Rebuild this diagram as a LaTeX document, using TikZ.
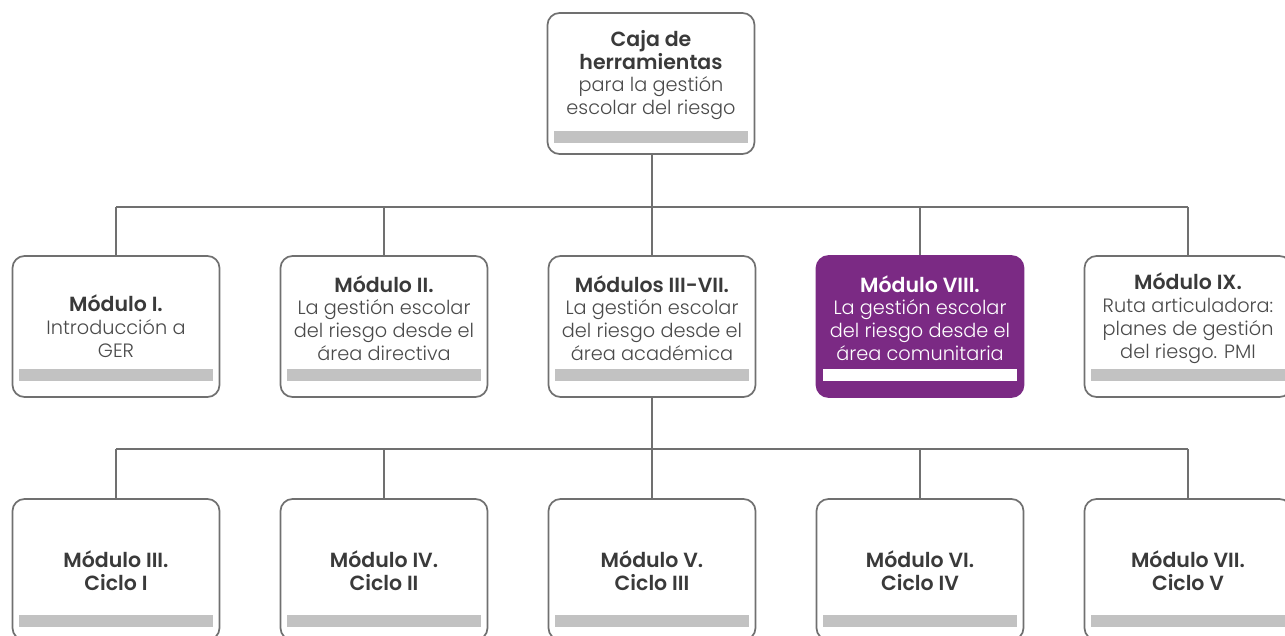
\documentclass[tikz,border=0pt]{standalone}
\usepackage{fontspec}
\setmainfont{Poppins}[UprightFont=* Light, BoldFont=* SemiBold]
\usetikzlibrary{calc}
\definecolor{linegray}{HTML}{707070}
\definecolor{txtgray}{HTML}{4A4A4A}
\definecolor{hdgray}{HTML}{3A3A3A}
\definecolor{bargray}{HTML}{C2C2C2}
\definecolor{modpurple}{HTML}{7B2A84}
\tikzset{
  box/.style={draw=linegray, line width=1.7pt, rounded corners=12pt, minimum width=207pt, minimum height=141pt, inner sep=0pt, fill=white},
  hibox/.style={box, draw=modpurple, fill=modpurple},
  lbl/.style={align=center, text=txtgray, font=\fontsize{19.3}{22.8}\selectfont, inner sep=0pt},
  hilbl/.style={lbl, text=white},
  conn/.style={draw=linegray, line width=1.2pt},
}
\newcommand\hd[1]{{\fontsize{20.5}{22.8}\selectfont\bfseries #1}}
\newcommand\drawbar[3]{\fill[#3] ($(#1.north west)+(7,#2)$) rectangle ($(#1.north east)+(-7,#2+12)$);}
\begin{document}
\begin{tikzpicture}[x=1pt,y=-1pt]
\useasboundingbox (0,0) rectangle (1285,635);
\clip (0,0) rectangle (1285,635);
% junction coordinates
\coordinate (h1L) at (116,207);
\coordinate (h1R) at (1188,207);
\coordinate (h1M) at (652,207);
\coordinate (h2L) at (116,449);
\coordinate (h2R) at (1188,449);
\coordinate (h2M) at (652,449);
% connectors
\draw[conn] (h1L) -- (h1R);
\draw[conn] (h2L) -- (h2R);
% boxes
\node[box] (top) at (651,83.5) {};
\node[box] (m1) at (116,326.5) {};
\node[box] (m2) at (384,326.5) {};
\node[box] (m3) at (652,326.5) {};
\node[hibox] (m4) at (920,326.5) {};
\node[box] (m5) at (1188,326.5) {};
\node[box] (c1) at (116,569.5) {};
\node[box] (c2) at (384,569.5) {};
\node[box] (c3) at (652,569.5) {};
\node[box] (c4) at (920,569.5) {};
\node[box] (c5) at (1188,569.5) {};
% vertical connectors
\draw[conn] (top.south -| h1M) -- (h1M);
\foreach \n in {m1,m2,m3,m4,m5} {\draw[conn] (\n.north) -- (\n.north |- h1L);}
\draw[conn] (m3.south) -- (h2M);
\foreach \n in {c1,c2,c3,c4,c5} {\draw[conn] (\n.north) -- (\n.north |- h2L);}
% bars
\drawbar{top}{119}{bargray}
\foreach \n in {m1,m2,m3,m5} {\drawbar{\n}{114}{bargray}}
\drawbar{m4}{114}{white}
\foreach \n in {c1,c2,c3,c4,c5} {\drawbar{\n}{117}{bargray}}
% texts
\node[lbl, text=hdgray] (ttop) at (651,75) {\hd{Caja de}\\\hd{herramientas}\\\textcolor{txtgray}{para la gestión}\\\textcolor{txtgray}{escolar del riesgo}};
\node[lbl] (t1) at (116,326) {\textcolor{hdgray}{\hd{Módulo I.}}\\Introducción a\\GER};
\node[lbl] (t2) at (384,318) {\textcolor{hdgray}{\hd{Módulo II.}}\\La gestión escolar\\del riesgo desde el\\área directiva};
\node[lbl] (t3) at (652,318) {\textcolor{hdgray}{\hd{Módulos III-VII.}}\\La gestión escolar\\del riesgo desde el\\área académica};
\node[hilbl] (t4) at (920,318) {\hd{Módulo VIII.}\\La gestión escolar\\del riesgo desde el\\área comunitaria};
\node[lbl] (t5) at (1188,318) {\textcolor{hdgray}{\hd{Módulo IX.}}\\Ruta articuladora:\\planes de gestión\\del riesgo. PMI};
\node[lbl, text=hdgray] (b1) at (116,571) {\hd{Módulo III.}\\\hd{Ciclo I}};
\node[lbl, text=hdgray] (b2) at (384,571) {\hd{Módulo IV.}\\\hd{Ciclo II}};
\node[lbl, text=hdgray] (b3) at (652,571) {\hd{Módulo V.}\\\hd{Ciclo III}};
\node[lbl, text=hdgray] (b4) at (920,571) {\hd{Módulo VI.}\\\hd{Ciclo IV}};
\node[lbl, text=hdgray] (b5) at (1188,571) {\hd{Módulo VII.}\\\hd{Ciclo V}};
\end{tikzpicture}
\end{document}
